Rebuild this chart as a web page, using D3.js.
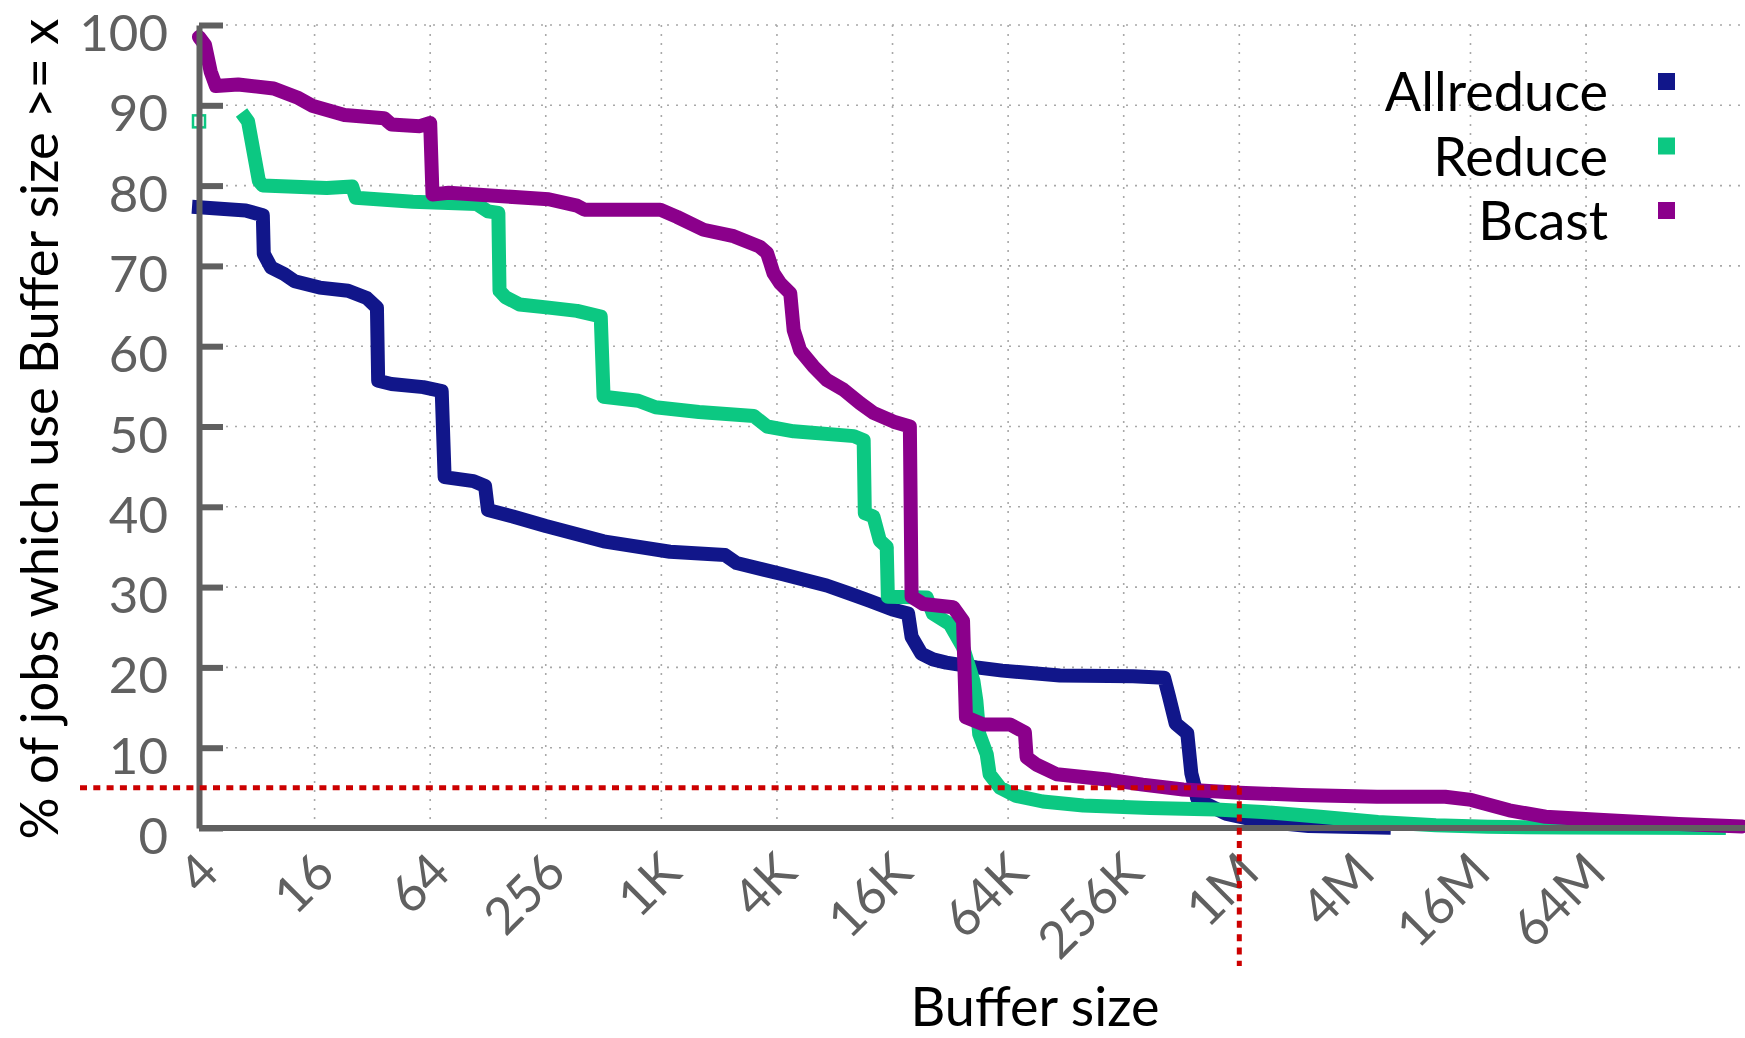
<!DOCTYPE html>
<meta charset='utf-8'>
<style>
  body { margin: 0; background: #fff; }
  svg { display: block; font-family: Lato, "Open Sans", sans-serif; }
  .axis path, .axis line { stroke: #606060; }
  .axis text { fill: #606060; font-size: 51px; font-family: Lato, sans-serif; }
  .grid line { stroke: #a8a8a8; stroke-width: 1.6; stroke-dasharray: 2 7; }
  .series { fill: none; stroke-linejoin: round; }
</style>
<body></body>
<script src="https://d3js.org/d3.v7.min.js"></script>
<script>

// buffer size (bytes) and % of jobs using a buffer >= that size
const allreduce = [
  [4, 77.3], [7, 76.9], [8.6, 76.3], [8.7, 71.5], [9.5, 69.8], [11.1, 69.0], [12.6, 68.1],
  [17, 67.3], [23.9, 66.9], [29.9, 66.0], [33.8, 64.8], [34.3, 55.7], [40.2, 55.3],
  [58.9, 54.9], [73.5, 54.4], [76.1, 43.7], [107.6, 43.2], [123.6, 42.6], [128, 39.6],
  [172.5, 38.8], [256, 37.6], [512, 35.7], [1136, 34.4], [2195, 34.0], [2521, 33.0],
  [4390, 31.6], [7434, 30.2], [9810, 29.2], [12417, 28.3], [16384, 27.2], [19750, 26.7],
  [20590, 23.8], [23170, 21.7], [26610, 21.0], [31200, 20.6], [44800, 20.0], [61100, 19.6],
  [122000, 19.0], [293600, 18.9], [425600, 18.7], [449900, 16.5],
  [489000, 13.0], [561800, 11.8], [589900, 6.8], [615000, 5.1], [632200, 3.7],
  [706400, 3.0], [889000, 1.8], [1383000, 0.8], [2408000, 0.25], [5931000, 0.05]
];

const reduceFirst = [[4, 88.0]];
const reduce = [
  [7, 88.4], [7.2, 88.0], [8.2, 80.6], [8.6, 80.0], [18.5, 79.7], [25.1, 79.9], [26.2, 78.5],
  [52, 78.0], [112, 77.7], [128, 76.8], [145, 76.6], [147, 66.9], [158, 66.1], [187, 65.2],
  [265, 64.8], [372, 64.4], [495, 63.7], [512, 53.7], [776, 53.2], [955, 52.4],
  [1607, 51.8], [3104, 51.3], [3640, 50.0], [5007, 49.4], [10300, 48.8], [11590, 48.3],
  [11750, 39.2], [13030, 38.8], [14070, 35.8], [15280, 35.0], [15490, 28.8], [24690, 28.7],
  [26610, 26.7], [32540, 25.4], [38160, 22.5], [43230, 18.3], [44790, 15.8], [46340, 11.7],
  [50700, 9.2], [52500, 6.7], [59500, 5.0], [72200, 4.0], [99300, 3.3], [161400, 2.8],
  [358700, 2.5], [794400, 2.3], [1383000, 2.0], [2770000, 1.4], [5530000, 0.75],
  [11070000, 0.35], [20630000, 0.15], [52700000, 0.05], [330000000, 0.0]
];

const bcast = [
  [4, 98.5], [4.3, 97.5], [4.6, 94.2], [4.9, 92.4], [6.4, 92.6], [9.8, 92.1], [13.2, 90.9],
  [15.7, 89.9], [22.9, 88.8], [36.8, 88.4], [40.2, 87.6], [56.5, 87.4], [64, 87.8],
  [65.8, 78.9], [79.9, 79.1], [265, 78.3], [372, 77.5], [407, 77.0], [1010, 77.0],
  [1235, 76.1], [1699, 74.5], [2436, 73.7], [3327, 72.4], [3640, 71.6], [3929, 69.1],
  [4270, 67.8], [4804, 66.6], [5007, 62.0], [5405, 59.5], [6337, 57.5], [7434, 55.8],
  [9090, 54.6], [11110, 52.9], [13030, 51.7], [16610, 50.6], [20170, 50.0], [20590, 28.8],
  [23660, 27.9], [33900, 27.5], [38160, 25.8], [39510, 13.8], [48640, 12.9], [66920, 12.9],
  [80150, 11.9], [81830, 8.8], [92070, 7.9], [117300, 6.7], [222000, 6.0], [329000, 5.4],
  [535000, 4.8], [1048576, 4.4], [2199000, 4.1], [5464000, 3.9], [12380000, 3.9],
  [16930000, 3.5], [26710000, 2.2], [41300000, 1.4], [82600000, 1.0], [203400000, 0.5],
  [436000000, 0.2]
];

const seriesNames = ['Allreduce', 'Reduce', 'Bcast'];
const seriesColors = ['#11168a', '#0cc882', '#8b008b'];

const xTickValues = [4, 16, 64, 256, 1024, 4096, 16384, 65536, 262144, 1048576, 4194304, 16777216, 67108864];
const xTickLabels = ['4', '16', '64', '256', '1K', '4K', '16K', '64K', '256K', '1M', '4M', '16M', '64M'];
const yTickValues = [0, 10, 20, 30, 40, 50, 60, 70, 80, 90, 100];

// reference marks: 5% of jobs, 1M buffer
const markPct = 5;
const markSize = 1048576;

const W = 1745, H = 1038;
const svg = d3.select('body').append('svg').attr('width', W).attr('height', H);

const x = d3.scaleLog().base(2).domain([4, Math.pow(2, 28.75)]).range([199, 1745]);
const y = d3.scaleLinear().domain([0, 100]).range([828, 25]);

// grid
const grid = svg.append('g').attr('class', 'grid');
grid.selectAll('line.v').data(xTickValues.slice(1)).join('line')
  .attr('x1', d => x(d)).attr('x2', d => x(d)).attr('y1', y(100)).attr('y2', y(0));
grid.selectAll('line.h').data(yTickValues.slice(1)).join('line')
  .attr('x1', x.range()[0]).attr('x2', W).attr('y1', d => y(d)).attr('y2', d => y(d));

// series
const line = d3.line().x(d => x(d[0])).y(d => y(d[1]));
const allData = [allreduce, reduce, bcast];
const caps = ['square', 'square', 'round'];
allData.forEach((data, i) => {
  svg.append('path').attr('class', 'series')
    .attr('d', line(data))
    .attr('stroke', seriesColors[i])
    .attr('stroke-width', 14)
    .attr('stroke-linecap', caps[i]);
});

// lone first Reduce point
svg.selectAll('rect.first').data(reduceFirst).join('rect')
  .attr('x', d => x(d[0]) - 6).attr('y', d => y(d[1]) - 6)
  .attr('width', 12).attr('height', 12)
  .attr('fill', 'none').attr('stroke', seriesColors[1]).attr('stroke-width', 2.5);

// axes
const yAxis = d3.axisLeft(y).tickValues(yTickValues).tickSizeInner(-24).tickSizeOuter(0).tickPadding(31);
const yAxisSel = svg.append('g').attr('class', 'axis')
  .attr('transform', `translate(${x.range()[0]},0)`).call(yAxis);
yAxisSel.select('.domain').attr('stroke-width', 6);
yAxisSel.selectAll('.tick line').attr('stroke-width', 6);
yAxisSel.selectAll('.tick text').attr('dy', '0.5em');

const xAxis = d3.axisBottom(x).tickValues(xTickValues).tickFormat((d, i) => xTickLabels[i]).tickSize(0);
const xAxisSel = svg.append('g').attr('class', 'axis')
  .attr('transform', `translate(0,${y(0)})`).call(xAxis);
xAxisSel.select('.domain').attr('stroke-width', 6).attr('d', `M${x.range()[0]},0H${W}`);
xAxisSel.selectAll('.tick text')
  .attr('y', 0).attr('dy', 0)
  .attr('text-anchor', 'end')
  .attr('transform', 'translate(22,47) rotate(-45)');

// red reference lines
const red = svg.append('g').attr('stroke', '#cc0000').attr('stroke-width', 5)
  .attr('stroke-dasharray', '7 6.3').attr('fill', 'none');
red.append('line').attr('x1', 80).attr('x2', x(markSize)).attr('y1', y(markPct)).attr('y2', y(markPct));
red.append('line').attr('x1', x(markSize)).attr('x2', x(markSize)).attr('y1', y(markPct)).attr('y2', 966);

// axis titles
svg.append('text')
  .attr('transform', 'translate(58,429) rotate(-90)')
  .attr('text-anchor', 'middle').attr('font-size', 52.4).attr('fill', '#000')
  .text('% of jobs which use Buffer size >= x');
svg.append('text')
  .attr('x', 1035).attr('y', 1026)
  .attr('text-anchor', 'middle').attr('font-size', 54).attr('fill', '#000')
  .text('Buffer size');

// legend
const legend = svg.append('g');
seriesNames.forEach((name, i) => {
  const base = 111 + i * 64.5;
  legend.append('text').attr('x', 1608).attr('y', base)
    .attr('text-anchor', 'end').attr('font-size', 54).attr('fill', '#000').text(name);
  legend.append('rect').attr('x', 1658).attr('y', base - 38).attr('width', 17).attr('height', 17)
    .attr('fill', seriesColors[i]);
});

</script>
